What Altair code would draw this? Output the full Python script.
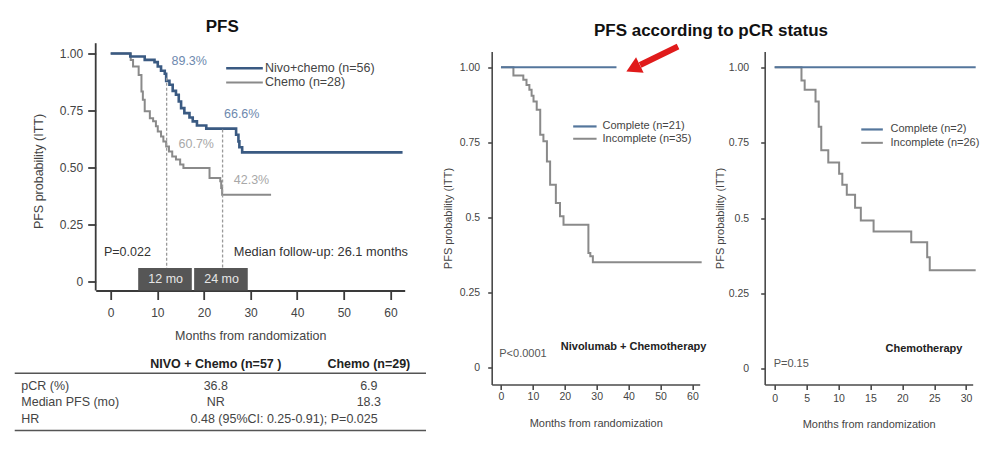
import altair as alt
import pandas as pd

FONT = "Liberation Sans"

# ---------------- Data: overall PFS (left panel) ----------------
p1_groups = ["Nivo+chemo (n=56)", "Chemo (n=28)"]
nivo_months = [0, 4.2, 7.3, 9.4, 10.1, 10.8, 11.6, 11.9, 12.6, 13.3, 14.0, 14.6, 15.1, 15.8,
               16.9, 17.6, 18.5, 20.5, 26.9, 27.4, 27.6, 28.2, 62.6]
nivo_surv = [1.0, 0.987, 0.972, 0.962, 0.943, 0.924, 0.911, 0.880, 0.863, 0.836, 0.819, 0.789,
             0.760, 0.738, 0.719, 0.702, 0.684, 0.670, 0.643, 0.614, 0.588, 0.566, 0.566]
chemo_months = [0, 4.3, 4.8, 6.0, 6.6, 6.9, 7.3, 8.4, 9.1, 9.7, 10.1, 10.8, 11.3, 11.9, 12.5,
                13.2, 14.0, 14.9, 15.6, 21.2, 23.5, 23.7, 23.9, 34.4]
chemo_surv = [1.0, 0.972, 0.943, 0.906, 0.833, 0.797, 0.746, 0.716, 0.702, 0.680, 0.658, 0.636,
              0.614, 0.592, 0.570, 0.548, 0.534, 0.512, 0.497, 0.453, 0.439, 0.409, 0.380, 0.380]

milestone_months = [12, 24]
milestone_labels = ["12 mo", "24 mo"]
nivo_rates = [89.3, 66.6]
chemo_rates = [60.7, 42.3]

# ---------------- Data: Nivolumab + chemotherapy by pCR ----------------
nc_groups = ["Complete (n=21)", "Incomplete (n=35)"]
nc_complete_months = [0, 36.2]
nc_complete_surv = [1.0, 1.0]
nc_incomplete_months = [0, 3.9, 7.0, 8.0, 8.9, 9.6, 10.2, 11.2, 12.3, 13.3, 14.4, 15.4, 17.2,
                        18.5, 19.6, 27.4, 28.0, 28.8, 62.9]
nc_incomplete_surv = [1.0, 0.972, 0.958, 0.941, 0.925, 0.905, 0.886, 0.858, 0.775, 0.753, 0.686,
                      0.608, 0.547, 0.503, 0.475, 0.381, 0.370, 0.350, 0.350]

# ---------------- Data: chemotherapy by pCR ----------------
c_groups = ["Complete (n=2)", "Incomplete (n=26)"]
c_complete_months = [0, 31.5]
c_complete_surv = [1.0, 1.0]
c_incomplete_months = [0, 4.2, 4.7, 6.4, 6.9, 7.3, 8.4, 10.1, 10.6, 11.3, 12.6, 13.5, 15.5,
                       21.4, 23.9, 24.3, 31.5]
c_incomplete_surv = [1.0, 0.956, 0.925, 0.886, 0.803, 0.725, 0.684, 0.647, 0.610, 0.577, 0.534,
                     0.492, 0.455, 0.420, 0.370, 0.327, 0.327]

# ---------------- Data: summary table ----------------
table_headers = ["NIVO + Chemo (n=57 )", "Chemo (n=29)"]
table_rows = ["pCR (%)", "Median PFS (mo)", "HR"]
table_nivo = ["36.8", "NR", ""]
table_chemo = ["6.9", "18.3", ""]
table_hr = "0.48 (95%CI: 0.25-0.91); P=0.025"

# ---------------- Styles ----------------
BLUE = "#3a5a82"
BLUE2 = "#54769c"
GRAY = "#8a8a8a"
AXC = "#3a3a3a"
ONE = pd.DataFrame({"k": [0]})


def sc(domain, **kw):
    return alt.Scale(domain=domain, nice=False, zero=False, **kw)


class Panel:
    """Shared scales and axes of one panel."""
    def __init__(self, sx, sy, ax=None, ay=None):
        self.sx, self.sy, self.ax, self.ay = sx, sy, ax, ay

    def XD(self, v):
        return alt.XDatum(datum=v, type="quantitative", scale=self.sx, axis=self.ax)

    def YD(self, v):
        return alt.YDatum(datum=v, type="quantitative", scale=self.sy, axis=self.ay)

    def XF(self, f):
        return alt.X(f, type="quantitative", scale=self.sx, axis=self.ax)

    def YF(self, f):
        return alt.Y(f, type="quantitative", scale=self.sy, axis=self.ay)

    def curve(self, months, surv, color, width):
        df = pd.DataFrame({"month": months, "surv": surv})
        return alt.Chart(df).mark_line(interpolate="step-after", color=color,
                                       strokeWidth=width).encode(
            x=self.XF("month"), y=self.YF("surv"))

    def label(self, text, x, y, size, color="#333", align="left", weight="normal"):
        return alt.Chart(ONE).mark_text(text=text, font=FONT, fontSize=size, color=color,
                                        align=align, baseline="middle",
                                        fontWeight=weight).encode(
            x=self.XD(x), y=self.YD(y))

    def hrule(self, x0, x1, y, color, width):
        return alt.Chart(ONE).mark_rule(color=color, strokeWidth=width).encode(
            x=self.XD(x0), x2=alt.X2Datum(datum=x1), y=self.YD(y))

    def vrule(self, x, y0, y1, color, width):
        return alt.Chart(ONE).mark_rule(color=color, strokeWidth=width).encode(
            x=self.XD(x), y=self.YD(y0), y2=alt.Y2Datum(datum=y1))

    def legend(self, labels, colors, widths, x0, x1, xt, y0, dy, size):
        out = []
        for i, (lab, col, w) in enumerate(zip(labels, colors, widths)):
            yy = y0 - i * dy
            out.append(self.hrule(x0, x1, yy, col, w))
            out.append(self.label(lab, xt, yy, size, color="#444"))
        return out


def axis(values, title, lsize, tsize, tick, lpad, tpad, expr=None, width=1.8, color=AXC,
         domain=True):
    kw = dict(values=values, title=title, grid=False, domain=domain, domainColor=color,
              domainWidth=width, tickColor=color, tickWidth=width, tickSize=tick,
              labelFont=FONT, labelFontSize=lsize, labelColor="#444", labelPadding=lpad,
              titleFont=FONT, titleFontSize=tsize, titleFontWeight="normal",
              titleColor="#444", titlePadding=tpad, labelFlush=False, labelOverlap=False)
    if expr:
        kw["labelExpr"] = expr
    return alt.Axis(**kw)


# ================= Left panel: PFS =================
X1_DOMAIN = [-3.214, 63.06]
Y1_AXIS_SPAN = [-0.0408, 1.0452]          # extent of the drawn y-axis line
P1 = Panel(sc(X1_DOMAIN), sc([-0.0408, 1.0088]),
           axis([0, 10, 20, 30, 40, 50, 60], "Months from randomization", 12, 12.5, 9, 8, 11),
           axis([0, 0.25, 0.5, 0.75, 1], "PFS probability (ITT)", 12, 12.5, 8, 5, 14,
                expr="datum.value == 0 ? '0' : format(datum.value, '.2f')", domain=False))

ms = pd.DataFrame({"month": milestone_months, "label": milestone_labels,
                   "nivo": nivo_rates, "chemo": chemo_rates})

dashed = alt.Chart(ms).transform_calculate(top="datum.nivo / 100").mark_rule(
    color="#9a9a9a", strokeDash=[3, 2], strokeWidth=1.3).encode(
    x=P1.XF("month"), y=P1.YF("top"), y2=alt.Y2Datum(datum=0.058))

boxes = alt.Chart(ms).transform_calculate(lo="datum.month - 6.1", hi="datum.month + 5.4").mark_rect(
    color="#565656").encode(
    x=P1.XF("lo"), x2="hi:Q", y=P1.YD(-0.0408), y2=alt.Y2Datum(datum=0.058))

box_text = alt.Chart(ms).mark_text(font=FONT, fontSize=12.5, color="#e6e6e6", dx=-1,
                                   baseline="middle").encode(
    x=P1.XF("month"), y=P1.YD(0.009), text="label:N")

p1_layers = [
    P1.curve(chemo_months, chemo_surv, GRAY, 2.0),
    P1.curve(nivo_months, nivo_surv, BLUE, 2.6),
    P1.vrule(X1_DOMAIN[0], Y1_AXIS_SPAN[0], Y1_AXIS_SPAN[1], AXC, 1.8),
    dashed, boxes, box_text,
    P1.label(f"{nivo_rates[0]}%", 16.84, 0.968, 12.5, color="#6d89ae", align="center"),
    P1.label(f"{nivo_rates[1]}%", 28.1, 0.735, 12.5, color="#6d89ae", align="center"),
    P1.label(f"{chemo_rates[0]}%", 18.35, 0.602, 12.5, color="#a8a8a8", align="center"),
    P1.label(f"{chemo_rates[1]}%", 30.2, 0.443, 12.5, color="#a8a8a8", align="center"),
    P1.label("P=0.022", -1.44, 0.127, 12.5),
    P1.label("Median follow-up: 26.1 months", 26.42, 0.127, 12.8),
] + P1.legend(p1_groups, [BLUE, GRAY], [2.6, 2.0], 24.77, 32.63, 33.1, 0.9355, 0.0627, 12.5)
p1 = alt.layer(*p1_layers)

# summary table (own coordinate system: x in % of table width, y in row units)
T = Panel(sc([19.69, 94.82]), sc([-19.06, -4.706], reverse=True), None, None)
tbody = pd.DataFrame({"label": table_rows, "nivo": table_nivo, "chemo": table_chemo,
                      "row": [1, 2, 3]})


def tcol(field, xpos, align):
    return alt.Chart(tbody).mark_text(font=FONT, fontSize=12.5, color="#444", align=align,
                                      baseline="middle").encode(
        x=T.XD(xpos), y=T.YF("row"), text=f"{field}:N")


table = alt.layer(
    T.hrule(0, 100, 0.26, "#555", 1.4),
    T.hrule(0, 100, 3.70, "#555", 1.4),
    T.label(table_headers[0], 48.9, -0.30, 12.5, color="#222", align="center", weight="bold"),
    T.label(table_headers[1], 86.1, -0.30, 12.5, color="#222", align="center", weight="bold"),
    tcol("label", 1.6, "left"),
    tcol("nivo", 48.9, "center"),
    tcol("chemo", 86.1, "center"),
    T.label(table_hr, 65.5, 3, 12.5, color="#444", align="center"),
)

left = alt.layer(p1, table).resolve_scale(x="independent", y="independent").properties(
    width=309, height=239,
    title=alt.TitleParams("PFS", font=FONT, fontSize=17, fontWeight="bold", color="#111",
                          offset=6, anchor="middle", dx=-28))

# ================= Middle panel: Nivolumab + Chemotherapy =================
yexpr = "datum.value == 0 ? '0' : datum.value == 0.5 ? '0.5' : format(datum.value, '.2f')"
P2 = Panel(sc([-2.91, 62.28]), sc([-0.0576, 1.0523]),
           axis([0, 10, 20, 30, 40, 50, 60], "Months from randomization", 10.5, 11, 5, 2, 16,
                width=1.6, color="#4a4a4a"),
           axis([0, 0.25, 0.5, 0.75, 1], "PFS probability (ITT)", 10.5, 11, 4, 8, 6, expr=yexpr,
                width=1.6, color="#4a4a4a"))

p2_layers = [
    P2.curve(nc_incomplete_months, nc_incomplete_surv, GRAY, 2.0),
    P2.curve(nc_complete_months, nc_complete_surv, BLUE2, 2.0),
    P2.label("Nivolumab + Chemotherapy", 64.38, 0.0676, 11, color="#222", align="right",
             weight="bold"),
    P2.label("P<0.0001", -0.53, 0.0443, 11, color="#555"),
    alt.Chart(ONE).mark_rule(color="#e01b1b", strokeWidth=6).encode(
        x=P2.XD(55.49), x2=alt.X2Datum(datum=43.6), y=P2.YD(1.069),
        y2=alt.Y2Datum(datum=1.0075)),
    alt.Chart(ONE).mark_point(shape="triangle-up", angle=244, size=300, filled=True,
                              color="#e01b1b", opacity=1).encode(
        x=P2.XD(41.41), y=P2.YD(0.9963)),
] + P2.legend(nc_groups, [BLUE2, GRAY], [2.2, 2.0], 22.63, 29.96, 31.83, 0.8025, 0.041, 11)
p2 = alt.layer(*p2_layers).properties(width=208, height=333)

# ================= Right panel: Chemotherapy =================
P3 = Panel(sc([-1.565, 31.03]), sc([-0.0517, 1.052]),
           axis([0, 5, 10, 15, 20, 25, 30], "Months from randomization", 10.5, 11, 5, 4, 15,
                width=1.6, color="#4a4a4a"),
           axis([0, 0.25, 0.5, 0.75, 1], "PFS probability (ITT)", 10.5, 11, 4, 12, 3, expr=yexpr,
                width=1.6, color="#4a4a4a"))

p3_layers = [
    P3.curve(c_incomplete_months, c_incomplete_surv, GRAY, 2.0),
    P3.curve(c_complete_months, c_complete_surv, BLUE2, 2.0),
    P3.label("Chemotherapy", 29.42, 0.0643, 11, color="#222", align="right", weight="bold"),
    P3.label("P=0.15", -0.16, 0.0166, 11, color="#555"),
] + P3.legend(c_groups, [BLUE2, GRAY], [2.2, 2.0], 13.57, 16.95, 18.15, 0.7936, 0.0443, 11)
p3 = alt.layer(*p3_layers).properties(width=208, height=333)

right = alt.hconcat(p2, p3, spacing=65, bounds="flush",
                    title=alt.TitleParams("PFS according to pCR status", font=FONT, fontSize=17,
                                          fontWeight="bold", color="#111", offset=3,
                                          anchor="middle"))

chart = alt.hconcat(left, right, spacing=14).properties(
    padding={"left": 5.7, "top": 9.5, "right": 0, "bottom": 0}
).configure_view(stroke=None)

chart.save("out.html", embed_options={"renderer": "svg", "actions": False})
